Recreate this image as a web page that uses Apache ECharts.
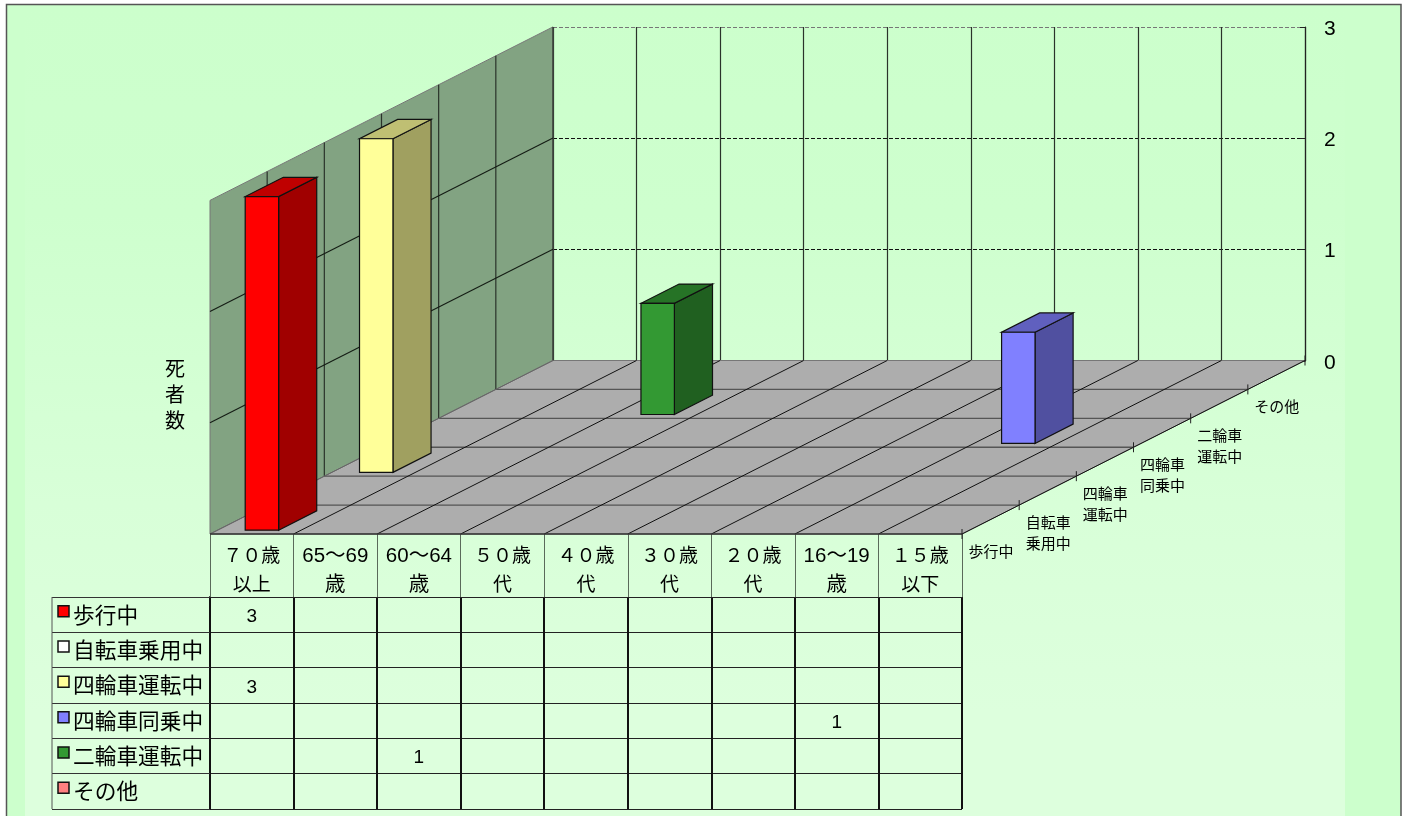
<!DOCTYPE html>
<html><head><meta charset="utf-8">
<style>html,body{margin:0;padding:0;background:#fff}#c{width:1410px;height:816px}</style>
<script src="https://cdn.jsdelivr.net/npm/echarts@6/dist/echarts.min.js"></script>
</head><body><div id="c"></div>
<script>
const ages = ['７０歳\n以上','65～69\n歳','60～64\n歳','５０歳\n代','４０歳\n代','３０歳\n代','２０歳\n代','16～19\n歳','１５歳\n以下'];
const modes = ['歩行中','自転車乗用中','四輪車運転中','四輪車同乗中','二輪車運転中','その他'];
const depthLabels = ['歩行中','自転車\n乗用中','四輪車\n運転中','四輪車\n同乗中','二輪車\n運転中','その他'];
const modeColors = ['#FF0000','#FFFFFF','#FFFF99','#8080FF','#339933','#FF8080'];
const walking   = [3,null,null,null,null,null,null,null,null];
const bicycle   = [null,null,null,null,null,null,null,null,null];
const carDriver = [3,null,null,null,null,null,null,null,null];
const carPass   = [null,null,null,null,null,null,null,1,null];
const bikeRider = [null,null,1,null,null,null,null,null,null];
const other     = [null,null,null,null,null,null,null,null,null];
const rows = [walking,bicycle,carDriver,carPass,bikeRider,other];

const CJK = "'Liberation Sans','Noto Sans CJK JP',sans-serif";
const nC = ages.length, nD = modes.length, vMax = 3;
// oblique projection factors: one depth step in units of the projection axes
const kx = 343/6/83.56, ky = 173.5/6/111.2;
const P = (api,c,d,v)=>api.coord([c+d*kx, v+d*ky]);
const shade=(hex,f)=>{const n=parseInt(hex.slice(1),16);
  const ch=s=>Math.round(((n>>s)&255)*f);return `rgb(${ch(16)},${ch(8)},${ch(0)})`;};
const poly=(points,fill,stroke,w,z2)=>({type:'polygon',z2:z2||0,shape:{points},style:{fill,stroke:stroke||null,lineWidth:w||0}});
const line=(a,b,stroke,w,z2)=>({type:'line',z2:z2||1,shape:{x1:a[0],y1:a[1],x2:b[0],y2:b[1]},style:{stroke,lineWidth:w||1}});

function frameItem(params,api){
  const ch=[];
  const p=(c,d,v)=>P(api,c,d,v);
  ch.push(poly([p(0,0,0),p(0,nD,0),p(0,nD,vMax),p(0,0,vMax)],'#82A382','#777',1));
  ch.push(poly([p(0,0,0),p(nC,0,0),p(nC,nD,0),p(0,nD,0)],'#ADADAD','#777',1));
  for(let d=1;d<=nD;d++){
    ch.push(line(p(0,d,0),p(0,d,vMax),'#2a332a',1.2));
    if(d<nD) ch.push(line(p(0,d,0),p(nC,d,0),'#555',1.3));
  }
  for(let v=1;v<vMax;v++) ch.push(line(p(0,0,v),p(0,nD,v),'#141c14',1.1));
  for(let c=0;c<=nC;c++) ch.push(line(p(c,0,0),p(c,nD,0),c===0?'#666':'#111',1));
  ch.push(line(p(0,0,0),p(nC,0,0),'#333',1.5));
  for(let d=0;d<=nD;d++){
    const q=p(nC,d,0);
    ch.push(line([q[0],q[1]-5],[q[0],q[1]+5],'#222',1));
  }
  depthLabels.forEach((t,d)=>{
    const q=p(nC,d,0);
    ch.push({type:'text',z2:3,style:{text:t,x:q[0]+29,y:q[1]+8,align:'center',verticalAlign:'top',
      fill:'#000',fontSize:15,lineHeight:21,fontFamily:CJK}});
  });
  return {type:'group',children:ch};
}

const barW=0.4, front=1/6, back=5/6;
function barItem(params,api){
  const c=api.value(0), d=api.value(1), v=api.value(2);
  const col=modeColors[d];
  const a=c+0.5-barW/2, b=c+0.5+barW/2;
  const p=(x,dd,h)=>{const q=P(api,x,dd,h);return [q[0]+0.6,q[1]+1];};
  const dd0=d+front, dd1=d+back;
  return {type:'group',children:[
    poly([p(b,dd0,0),p(b,dd1,0),p(b,dd1,v),p(b,dd0,v)],shade(col,.627),'#111',1.2),
    poly([p(a,dd0,v),p(b,dd0,v),p(b,dd1,v),p(a,dd1,v)],shade(col,.75),'#111',1.2),
    poly([p(a,dd0,0),p(b,dd0,0),p(b,dd0,v),p(a,dd0,v)],col,'#111',1.2)
  ]};
}

const barSeries = modes.map((name,d)=>({
  type:'custom',name,coordinateSystem:'cartesian2d',xAxisIndex:0,yAxisIndex:0,z:20-d,silent:true,
  renderItem:barItem,clip:false,itemStyle:{color:modeColors[d]},
  data:rows[d].map((v,c)=>v==null?null:[c,d,v]).filter(Boolean)
}));

const cellData=[];
rows.forEach((r,d)=>r.forEach((v,c)=>{if(v!=null)cellData.push([c,d,v]);}));

const option={
  animation:false,
  backgroundColor:'#fff',
  title:{text:'死\n者\n数',left:165,top:357,padding:0,
    textStyle:{fontFamily:CJK,fontSize:20,fontWeight:'normal',color:'#000',lineHeight:26}},
  graphic:[
    {type:'rect',z:-20,shape:{x:6.5,y:4.5,width:1394.5,height:830},
      style:{fill:'#CCFFCC',stroke:'#555',lineWidth:1.5}},
    {type:'rect',z:-19,shape:{x:25,y:6,width:1320,height:830},
      style:{fill:{type:'linear',x:0,y:0,x2:0,y2:1,colorStops:[
        {offset:0,color:'#CCFFCC'},{offset:.25,color:'#CEFFCE'},{offset:.6,color:'#D8FFD8'},{offset:.85,color:'#DDFFDD'},{offset:1,color:'#DDFFDD'}]}}}
  ],
  grid:[
    {left:210,top:27,width:1095,height:507},
    {left:553,top:27,width:752,height:334},
    {left:210,top:597,width:752,height:212}
  ],
  xAxis:[
    {type:'value',gridIndex:0,show:false,min:0,max:nC+nD*kx},
    {type:'category',gridIndex:1,data:ages,axisLine:{show:false},axisTick:{show:false},axisLabel:{show:false},
      splitLine:{show:true,interval:0,lineStyle:{color:'#2a332a',width:1.2}}},
    {type:'category',gridIndex:2,position:'top',
      data:ages.map(a=>({value:a,textStyle:{fontSize:/[０-９]/.test(a)?19:20.5}})),
      axisLine:{show:true,lineStyle:{color:'#222',width:1}},
      axisTick:{show:true,length:63,interval:0,lineStyle:{color:'#5a6a5a',width:1}},
      axisLabel:{interval:0,margin:-3,lineHeight:29,color:'#000',fontFamily:CJK},
      splitLine:{show:true,interval:0,lineStyle:{color:'#111',width:2}}}
  ],
  yAxis:[
    {type:'value',gridIndex:0,show:false,min:0,max:(507/111.2)},
    {type:'value',gridIndex:1,position:'right',min:0,max:vMax,interval:1,
      axisLine:{show:true,lineStyle:{color:'#222',width:1.2}},
      axisTick:{show:true,inside:true,length:5,lineStyle:{color:'#222'}},
      axisLabel:{margin:19,formatter:'{a|{value}}',
        rich:{a:{fontSize:21,color:'#000',fontFamily:CJK,padding:[4,0,0,0]}}},
      splitLine:{show:true,lineStyle:{type:'dashed',color:['#777','#111','#111','#777'],width:1}}},
    {type:'category',gridIndex:2,inverse:true,data:modes,
      axisLine:{show:true,lineStyle:{color:'#111',width:2}},
      axisTick:{show:true,length:158,interval:0,lineStyle:{color:'#333',width:1}},
      axisLabel:{interval:0,margin:137,align:'left',formatter:'{a|{value}}',
        rich:{a:{fontSize:21.7,color:'#000',fontFamily:CJK,padding:[4,0,0,0]}}},
      splitLine:{show:true,interval:0,lineStyle:{color:'#222',width:1}}}
  ],
  series:[
    {type:'custom',name:'frame',coordinateSystem:'cartesian2d',xAxisIndex:0,yAxisIndex:0,z:1,silent:true,clip:false,
      renderItem:frameItem,data:[[0,0]]},
    ...barSeries,
    {type:'custom',name:'table',coordinateSystem:'cartesian2d',xAxisIndex:2,yAxisIndex:2,z:5,silent:true,clip:false,
      renderItem(params,api){
        const q=api.coord([api.value(0),api.value(1)]);
        return {type:'text',style:{text:String(api.value(2)),x:q[0],y:q[1]+2,align:'center',verticalAlign:'middle',
          fill:'#000',fontSize:19,fontFamily:CJK}};
      },data:cellData},
    {type:'custom',name:'rowKeys',coordinateSystem:'cartesian2d',xAxisIndex:2,yAxisIndex:2,z:5,silent:true,clip:false,
      renderItem(params,api){
        const q=api.coord([0,api.value(0)]), h=api.size([0,1])[1], wc=api.size([1,0])[0];
        const left=q[0]-wc/2;
        const ch=[{type:'rect',shape:{x:left-152,y:q[1]-9,width:11,height:11},
          style:{fill:modeColors[api.value(0)],stroke:'#111',lineWidth:1.5}},
          {type:'line',shape:{x1:left-158,y1:q[1]-h/2,x2:left-158,y2:q[1]+h/2},style:{stroke:'#555',lineWidth:1}}];
        return {type:'group',children:ch};
      },data:modes.map((m,i)=>[i])}
  ]
};
const chart=echarts.init(document.getElementById('c'),null,{renderer:'canvas'});
chart.setOption(option);
</script></body></html>
